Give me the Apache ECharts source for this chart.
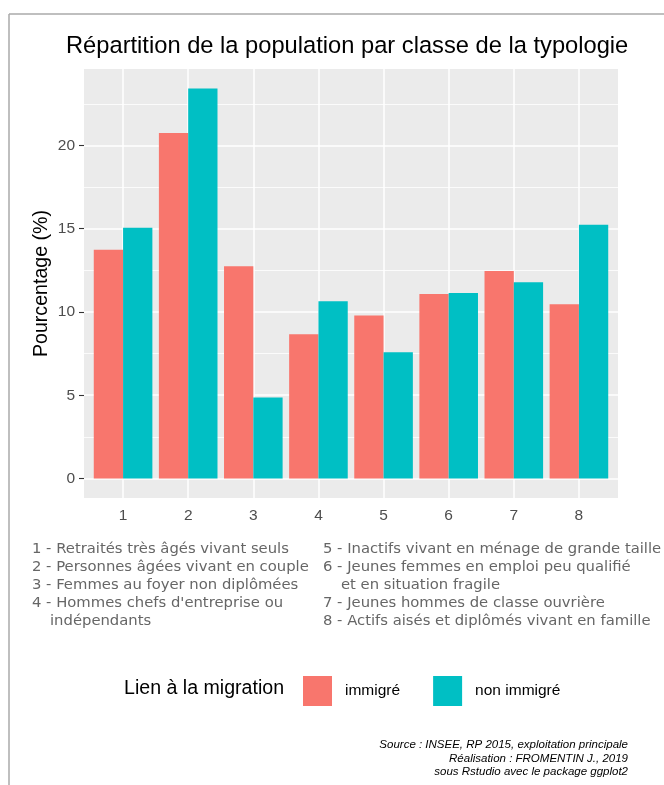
<!DOCTYPE html>
<html>
<head>
<meta charset="utf-8">
<script src="https://cdn.jsdelivr.net/npm/echarts@6/dist/echarts.min.js"></script>
<style>
  html, body { margin: 0; padding: 0; background: #fff; }
  #chart { width: 664px; height: 785px; }
</style>
</head>
<body>
<div id="chart"></div>
<script>
// classes de la typologie
const categories = [1, 2, 3, 4, 5, 6, 7, 8];
// pourcentages
const immigre = [13.73, 20.74, 12.75, 8.66, 9.79, 11.08, 12.46, 10.47];
const nonImmigre = [15.06, 23.42, 4.87, 10.65, 7.58, 11.14, 11.78, 15.24];
const seriesNames = ['immigré', 'non immigré'];
const yTicks = [0, 5, 10, 15, 20];
const yMinor = [2.5, 7.5, 12.5, 17.5, 22.5];

// textes de la légende des classes (2 colonnes)
const colLeft = [
  ['1 - Retraités très âgés vivant seuls', 0],
  ['2 - Personnes âgées vivant en couple', 0],
  ['3 - Femmes au foyer non diplômées', 0],
  ["4 - Hommes chefs d'entreprise ou", 0],
  ['indépendants', 1]
];
const colRight = [
  ['5 - Inactifs vivant en ménage de grande taille', 0],
  ['6 - Jeunes femmes en emploi peu qualifié', 0],
  ['et en situation fragile', 1],
  ['7 - Jeunes hommes de classe ouvrière', 0],
  ['8 - Actifs aisés et diplômés vivant en famille', 0]
];
const captionLines = [
  'Source : INSEE, RP 2015, exploitation principale',
  'Réalisation : FROMENTIN J., 2019',
  'sous Rstudio avec le package ggplot2'
];

const colors = ['#F8766D', '#00BFC4'];
const sans = 'Liberation Sans, Arial, sans-serif';
const listFont = 'DejaVu Sans, Verdana, sans-serif';

function listTexts(lines, x0) {
  return lines.map((l, i) => ({
    type: 'text',
    left: x0 + (l[1] ? 18 : 0),
    top: 542 + i * 18,
    style: { text: l[0], font: '14.8px ' + listFont, fill: '#666666' }
  }));
}

function captionTexts() {
  return captionLines.map((t, i) => ({
    type: 'text',
    right: 36,
    top: 739 + i * 13.5,
    style: { text: t, font: 'italic 11.5px ' + sans, fill: '#000' }
  }));
}

// lignes de la grille (sous les barres)
const gridLines = [];
yTicks.forEach(v => gridLines.push({ yAxis: v, lineStyle: { width: 1.5 } }));
yMinor.forEach(v => gridLines.push({ yAxis: v, lineStyle: { width: 0.8 } }));
categories.forEach(c => gridLines.push({ xAxis: c, lineStyle: { width: 1.5 } }));

const chart = echarts.init(document.getElementById('chart'));
const option = {
  animation: false,
  backgroundColor: '#ffffff',
  title: {
    text: 'Répartition de la population par classe de la typologie',
    left: 61,
    top: 29,
    textStyle: { fontFamily: sans, fontSize: 23.7, fontWeight: 'normal', color: '#000' }
  },
  grid: {
    left: 84, top: 69, width: 534, height: 429,
    show: true, backgroundColor: '#EBEBEB', borderWidth: 0
  },
  xAxis: {
    type: 'value',
    min: 0.4,
    max: 8.6,
    axisLine: { show: false },
    axisTick: { show: false },
    splitLine: { show: false },
    axisLabel: {
      customValues: categories,
      margin: 10,
      color: '#4D4D4D',
      fontFamily: sans,
      fontSize: 15.5
    }
  },
  yAxis: {
    type: 'value',
    min: -1.17,
    max: 24.59,
    name: 'Pourcentage (%)',
    nameLocation: 'middle',
    nameGap: 32,
    nameMoveOverlap: false,
    nameTextStyle: { fontFamily: sans, fontSize: 19.6, color: '#000' },
    axisLine: { show: false },
    splitLine: { show: false },
    axisTick: {
      show: true,
      customValues: yTicks,
      length: 5,
      lineStyle: { color: '#333333', width: 1.1 }
    },
    axisLabel: {
      customValues: yTicks,
      margin: 9,
      color: '#4D4D4D',
      fontFamily: sans,
      fontSize: 15.5
    }
  },
  legend: {
    data: seriesNames,
    left: 298,
    top: 671,
    icon: 'rect',
    itemWidth: 29,
    itemHeight: 30,
    itemGap: 33,
    selectedMode: false,
    textStyle: { fontFamily: sans, fontSize: 15.5, color: '#000', padding: [0, 0, 0, 8] }
  },
  graphic: [
    { type: 'line', shape: { x1: 9, y1: 14, x2: 664, y2: 14 }, style: { stroke: '#AAAAAA', lineWidth: 1.5 } },
    { type: 'line', shape: { x1: 9, y1: 14, x2: 9, y2: 785 }, style: { stroke: '#AAAAAA', lineWidth: 1.5 } },
    {
      type: 'text', left: 124, top: 679,
      style: { text: 'Lien à la migration', font: '19.6px ' + sans, fill: '#000' }
    }
  ].concat(captionTexts(), listTexts(colLeft, 32), listTexts(colRight, 323)),
  series: [
    {
      type: 'line',
      data: [],
      silent: true,
      markLine: {
        silent: true,
        z: 1,
        symbol: 'none',
        label: { show: false },
        lineStyle: { color: '#FFFFFF', type: 'solid' },
        emphasis: { disabled: true },
        data: gridLines
      }
    },
    {
      name: seriesNames[0],
      type: 'bar',
      z: 2,
      barWidth: 29.3,
      barGap: '0%',
      itemStyle: { color: colors[0] },
      data: categories.map((c, i) => [c, immigre[i]])
    },
    {
      name: seriesNames[1],
      type: 'bar',
      z: 2,
      barWidth: 29.3,
      barGap: '0%',
      itemStyle: { color: colors[1] },
      data: categories.map((c, i) => [c, nonImmigre[i]])
    }
  ]
};
chart.setOption(option);
</script>
</body>
</html>
